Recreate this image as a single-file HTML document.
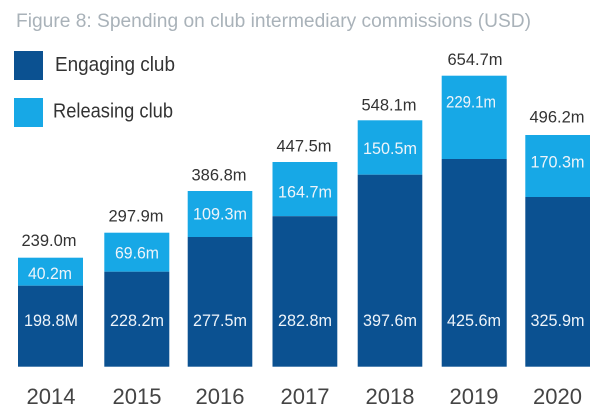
<!DOCTYPE html>
<html><head><meta charset="utf-8"><style>
html,body{margin:0;padding:0;background:#fff;}
svg{display:block;}
text{font-family:"Liberation Sans",sans-serif;}
</style></head><body>
<svg width="600" height="414" viewBox="0 0 600 414" xmlns="http://www.w3.org/2000/svg">
<rect width="600" height="414" fill="#fff"/>
<text x="16" y="27" font-size="19.5" fill="#a9b2b9" textLength="515" lengthAdjust="spacingAndGlyphs">Figure 8: Spending on club intermediary commissions (USD)</text>
<rect x="14" y="51" width="29" height="29" fill="#0b5191"/>
<rect x="14" y="98" width="29" height="29" fill="#17a8e6"/>
<text x="55" y="71" font-size="20" fill="#333" textLength="120" lengthAdjust="spacingAndGlyphs">Engaging club</text>
<text x="53" y="117.5" font-size="20" fill="#333" textLength="120" lengthAdjust="spacingAndGlyphs">Releasing club</text>

<g>
<!-- 2014 -->
<rect x="18" y="257.7" width="65" height="28" fill="#17a8e6"/>
<rect x="18" y="285.7" width="65" height="81" fill="#0b5191"/>
<!-- 2015 -->
<rect x="104.3" y="232.7" width="65" height="39" fill="#17a8e6"/>
<rect x="104.3" y="271.7" width="65" height="95" fill="#0b5191"/>
<!-- 2016 -->
<rect x="187.7" y="191" width="64.6" height="46" fill="#17a8e6"/>
<rect x="187.7" y="237" width="64.6" height="129.7" fill="#0b5191"/>
<!-- 2017 -->
<rect x="272.5" y="162" width="64.8" height="54.2" fill="#17a8e6"/>
<rect x="272.5" y="216.2" width="64.8" height="150.5" fill="#0b5191"/>
<!-- 2018 -->
<rect x="357.7" y="120.3" width="64.6" height="54.4" fill="#17a8e6"/>
<rect x="357.7" y="174.7" width="64.6" height="192" fill="#0b5191"/>
<!-- 2019 -->
<rect x="441.7" y="75.7" width="65" height="83.3" fill="#17a8e6"/>
<rect x="441.7" y="159" width="65" height="207.7" fill="#0b5191"/>
<!-- 2020 -->
<rect x="525.3" y="135" width="64.7" height="62" fill="#17a8e6"/>
<rect x="525.3" y="197" width="64.7" height="169.7" fill="#0b5191"/>
</g>

<g font-size="16.5" fill="#333" text-anchor="middle">
<text x="49" y="246">239.0m</text>
<text x="136" y="221.7">297.9m</text>
<text x="219" y="180.7">386.8m</text>
<text x="304" y="151.7">447.5m</text>
<text x="389" y="110.7">548.1m</text>
<text x="475" y="65">654.7m</text>
<text x="557" y="122.7">496.2m</text>
</g>

<g font-size="17" fill="#eef4fa" text-anchor="middle" lengthAdjust="spacingAndGlyphs">
<text x="50" y="279" textLength="44" lengthAdjust="spacingAndGlyphs">40.2m</text>
<text x="137" y="258.3" textLength="44" lengthAdjust="spacingAndGlyphs">69.6m</text>
<text x="220" y="219.3" textLength="54" lengthAdjust="spacingAndGlyphs">109.3m</text>
<text x="305" y="197.3" textLength="54" lengthAdjust="spacingAndGlyphs">164.7m</text>
<text x="390" y="154" textLength="54" lengthAdjust="spacingAndGlyphs">150.5m</text>
<text x="471" y="107.3" textLength="50" lengthAdjust="spacingAndGlyphs">229.1m</text>
<text x="557.5" y="167.3" textLength="54" lengthAdjust="spacingAndGlyphs">170.3m</text>

<text x="51" y="326" textLength="54" lengthAdjust="spacingAndGlyphs">198.8M</text>
<text x="137" y="326" textLength="54" lengthAdjust="spacingAndGlyphs">228.2m</text>
<text x="220" y="326" textLength="54" lengthAdjust="spacingAndGlyphs">277.5m</text>
<text x="305" y="326" textLength="54" lengthAdjust="spacingAndGlyphs">282.8m</text>
<text x="390" y="326" textLength="54" lengthAdjust="spacingAndGlyphs">397.6m</text>
<text x="474" y="326" textLength="54" lengthAdjust="spacingAndGlyphs">425.6m</text>
<text x="557.5" y="326" textLength="54" lengthAdjust="spacingAndGlyphs">325.9m</text>
</g>

<g font-size="22" fill="#444" text-anchor="middle">
<text x="51" y="404">2014</text>
<text x="137" y="404">2015</text>
<text x="220" y="404">2016</text>
<text x="305" y="404">2017</text>
<text x="390" y="404">2018</text>
<text x="474" y="404">2019</text>
<text x="557.5" y="404">2020</text>
</g>
</svg>
</body></html>
